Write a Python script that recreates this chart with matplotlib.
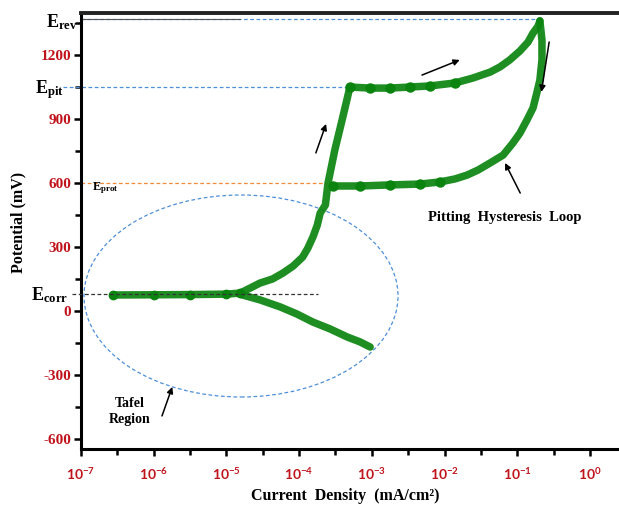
import numpy as np
import matplotlib
matplotlib.use("Agg")
import matplotlib.pyplot as plt
from matplotlib.patches import Ellipse
from matplotlib.ticker import FixedLocator, FuncFormatter

plt.rcParams["font.family"] = ["Liberation Serif", "DejaVu Serif"]
plt.rcParams["mathtext.fontset"] = "custom"
plt.rcParams["mathtext.rm"] = "Liberation Serif"
plt.rcParams["mathtext.bf"] = "Liberation Serif:bold"
plt.rcParams["mathtext.sf"] = "Lato:bold"
plt.rcParams["axes.unicode_minus"] = False

# forward scan: Ecorr -> pitting -> reversal (mA/cm2, mV)
fwd_i = [2.75e-7, 1e-6, 3.2e-6, 1e-5, 1.55e-5, 2.9e-5, 4.3e-5, 6.0e-5, 8.3e-5,
         1.12e-4, 1.32e-4, 1.55e-4, 1.78e-4, 1.95e-4, 2.3e-4, 2.5e-4, 3.1e-4,
         3.9e-4, 5.0e-4, 9.4e-4, 1.78e-3, 3.37e-3, 6.3e-3, 0.0139, 0.0245,
         0.0424, 0.0578, 0.079, 0.109, 0.141, 0.165, 0.194, 0.205]
fwd_E = [75, 76, 77, 79, 84, 131, 150, 178, 211,
         253, 295, 347, 403, 459, 497, 600, 755,
         895, 1050, 1045, 1045, 1050, 1055, 1069, 1092,
         1120, 1144, 1177, 1219, 1261, 1303, 1336, 1360]

# reverse scan: reversal -> repassivation
rev_i = [0.205, 0.219, 0.219, 0.205, 0.186, 0.165, 0.136, 0.109, 0.087,
         0.064, 0.0424, 0.029, 0.0204, 0.0139, 8.7e-3, 4.6e-3, 1.78e-3,
         6.9e-4, 2.95e-4]
rev_E = [1360, 1270, 1177, 1083, 1022, 952, 895, 834, 787,
         731, 694, 661, 637, 619, 605, 595, 591,
         586, 586]

# cathodic branch
cat_i = [1.55e-5, 2.9e-5, 5.5e-5, 9.3e-5, 1.55e-4, 2.66e-4, 4.6e-4, 6.9e-4, 9.5e-4]
cat_E = [78, 52, 19, -14, -52, -84, -122, -145, -169]

E_rev, E_pit, E_prot, E_corr = 1369, 1050, 600, 80

y_major = [-600, -300, 0, 300, 600, 900, 1200]
y_minor = [-450, -150, 150, 450, 750, 1050, 1350]
x_major = [1e-7, 1e-6, 1e-5, 1e-4, 1e-3, 1e-2, 1e-1, 1e0]
x_minor = [10 ** (k + 0.5) for k in range(-7, 0)]

red = "#c0141c"
green = "#0a840f"
blue = "#4f8fd8"
dash = (0, (3, 2))

fig = plt.figure(figsize=(6.19, 5.11), dpi=100)
ax = fig.add_axes([81 / 619, 62 / 511, 538 / 619, 436 / 511])
ax.set_xscale("log")
ax.set_xlim(1e-7, 10 ** 0.40)
ax.set_ylim(-647, 1397)

# reference lines
ax.plot([1e-7, 0.205], [E_rev, E_rev], ls=dash, color=blue, lw=0.9)
ax.plot([1e-7, 1.55e-5], [E_rev, E_rev], color="#555555", lw=0.8)
ax.plot([5.6e-8, 5e-4], [E_pit, E_pit], ls=dash, color=blue, lw=0.9, clip_on=False)
ax.plot([1e-7, 2.4e-4], [E_prot, E_prot], ls=dash, color="#f08a3c", lw=0.9)
ax.plot([7.5e-8, 1.8e-4], [E_corr, E_corr], ls=dash, color="#333333", lw=0.9,
        clip_on=False, zorder=4)

ax.add_patch(Ellipse(((241 - 81) / 538, (449 - 296) / 436), 314 / 538, 202 / 436,
                     transform=ax.transAxes, fill=False, ec=blue, lw=0.9, ls=dash))

# polarization curve
for xi, yi in [(fwd_i, fwd_E), (rev_i, rev_E), (cat_i, cat_E)]:
    ax.plot(xi, yi, color=green, lw=5.4, alpha=0.92, solid_capstyle="round",
            solid_joinstyle="round", zorder=3)
# measurement blobs on the flat stretches
ax.plot(fwd_i[:5], fwd_E[:5], "o", color=green, ms=6, zorder=3)
ax.plot(fwd_i[18:24], fwd_E[18:24], "o", color=green, ms=6.5, zorder=3)
ax.plot(rev_i[14:], rev_E[14:], "o", color=green, ms=6.5, zorder=3)

# scan direction arrows
arrows = [((1.7e-4, 741), (2.35e-4, 877)),
          ((4.9e-3, 1106), (0.0162, 1177)),
          ((0.275, 1261), (0.215, 1027)),
          ((0.11, 553), (0.068, 694)),
          ((1.3e-6, -492), (1.8e-6, -356))]
for tail, head in arrows:
    ax.annotate("", xy=head, xytext=tail,
                arrowprops=dict(arrowstyle="-|>", color="black", lw=1.1,
                                mutation_scale=9, shrinkA=0, shrinkB=0))

fig.text(428 / 619, 1 - 217 / 511, "Pitting  Hysteresis  Loop",
         fontsize=10.5, fontweight="bold", ha="left", va="center")
fig.text(130 / 619, 1 - 411 / 511, "Tafel\nRegion",
         fontsize=10, fontweight="bold", ha="center", va="center", linespacing=1.3)

# E labels
fig.text(78 / 619, 1 - 27 / 511, r"$\mathbf{E_{rev}}$", fontsize=13, ha="right", va="baseline")
fig.text(64 / 619, 1 - 93 / 511, r"$\mathbf{E_{pit}}$", fontsize=13, ha="right", va="baseline")
fig.text(92 / 619, 1 - 190 / 511, r"$\mathbf{E_{prot}}$", fontsize=9, ha="left", va="baseline")
fig.text(68 / 619, 1 - 300 / 511, r"$\mathbf{E_{corr}}$", fontsize=13, ha="right", va="baseline",
         zorder=5)

# axes styling
ax.spines["right"].set_visible(False)
for s in ["left", "bottom"]:
    ax.spines[s].set_linewidth(2.2)
ax.spines["top"].set_linewidth(2.8)
ax.spines["top"].set_color("#222222")

ax.yaxis.set_major_locator(FixedLocator(y_major))
ax.yaxis.set_minor_locator(FixedLocator(y_minor))
ax.xaxis.set_major_locator(FixedLocator(x_major))
ax.xaxis.set_minor_locator(FixedLocator(x_minor))
ax.xaxis.set_major_formatter(FuncFormatter(
    lambda v, p: r"$\mathsf{10^{%d}}$" % round(np.log10(v))))
ax.xaxis.set_minor_formatter(FuncFormatter(lambda v, p: ""))
ax.tick_params(axis="both", which="both", direction="out", width=1.8, colors="black")
ax.tick_params(axis="both", which="major", length=5)
ax.tick_params(axis="both", which="minor", length=4)
ax.tick_params(axis="y", which="major", pad=2, labelsize=11, labelcolor=red)
ax.tick_params(axis="x", which="major", pad=8, labelsize=10, labelcolor=red)
for lab in ax.get_yticklabels():
    lab.set_fontweight("bold")

fig.text(18 / 619, 1 - 222 / 511, "Potential (mV)", rotation=90, fontsize=11.5,
         fontweight="bold", ha="center", va="center")
fig.text(345 / 619, 1 - 496 / 511, "Current  Density  (mA/cm\u00b2)", fontsize=11.5,
         fontweight="bold", ha="center", va="center")

fig.savefig("out.png", dpi=100)
